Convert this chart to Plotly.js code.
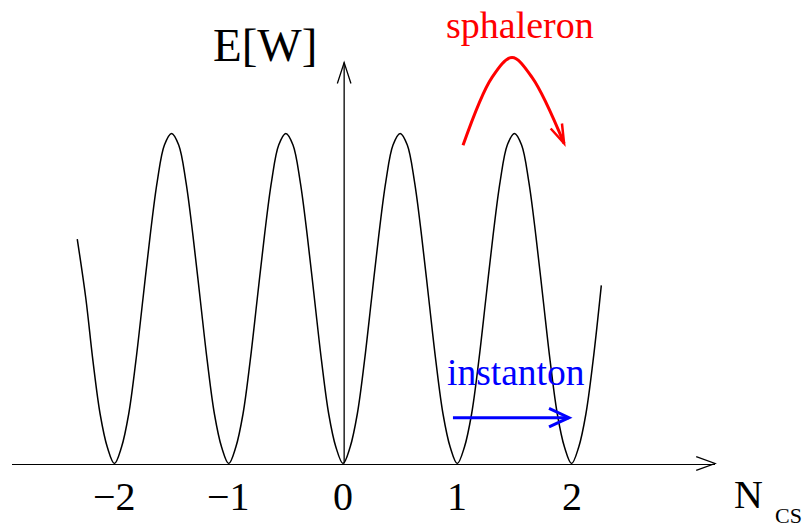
<!DOCTYPE html>
<html>
<head>
<meta charset="utf-8">
<script src="https://cdn.plot.ly/plotly-3.0.1.min.js"></script>
<style>html,body{margin:0;padding:0;background:#fff;}#chart{width:805px;height:527px;}</style>
</head>
<body>
<div id="chart"></div>
<script>
// ---- data ----
const nCS = [-2.325, -2.25, -2.1875, -2.125, -2.0625, -2,
  -1.9375, -1.875, -1.8125, -1.75, -1.6875, -1.625, -1.5625, -1.5, -1.4375, -1.375, -1.3125, -1.25, -1.1875, -1.125, -1.0625, -1,
  -0.9375, -0.875, -0.8125, -0.75, -0.6875, -0.625, -0.5625, -0.5, -0.4375, -0.375, -0.3125, -0.25, -0.1875, -0.125, -0.0625, 0,
  0.0625, 0.125, 0.1875, 0.25, 0.3125, 0.375, 0.4375, 0.5, 0.5625, 0.625, 0.6875, 0.75, 0.8125, 0.875, 0.9375, 1,
  1.0625, 1.125, 1.1875, 1.25, 1.3125, 1.375, 1.4375, 1.5, 1.5625, 1.625, 1.6875, 1.75, 1.8125, 1.875, 1.9375, 2,
  2.0625, 2.125, 2.1875, 2.26];
const energy = [0.68, 0.5, 0.31, 0.15, 0.05, 0,
  0.05, 0.15, 0.31, 0.5, 0.69, 0.855, 0.965, 1.0, 0.965, 0.855, 0.69, 0.5, 0.31, 0.15, 0.05, 0,
  0.05, 0.15, 0.31, 0.5, 0.69, 0.855, 0.965, 1.0, 0.965, 0.855, 0.69, 0.5, 0.31, 0.15, 0.05, 0,
  0.05, 0.15, 0.31, 0.5, 0.69, 0.855, 0.965, 1.0, 0.965, 0.855, 0.69, 0.5, 0.31, 0.15, 0.05, 0,
  0.05, 0.15, 0.31, 0.5, 0.69, 0.855, 0.965, 1.0, 0.965, 0.855, 0.69, 0.5, 0.31, 0.15, 0.05, 0,
  0.05, 0.15, 0.31, 0.54];

const sphaleronN = [1.050, 1.304, 1.479, 1.654, 1.934];
const sphaleronE = [0.964, 1.170, 1.230, 1.170, 0.970];

const instantonN = [0.962, 1.977];
const instantonE = [0.139, 0.139];

const energyAxisTop = 1.215;   // top of the vertical (E) axis arrow
const energyAxisN = 0.01;

const tickVals = [-2, -1, 0, 1, 2];
const tickText = ['\u22122', '\u22121', '0', '1', '2'];

// ---- layout geometry ----
const W = 805, H = 527;
const xDomain = [12 / W, 715 / W];
const xRange = [-2.896, 3.2546];
const yRange = [-0.1924, 1.4045];
const serif = 'Liberation Serif, Times New Roman, serif';

function chevron(tipX, tipY, dirDeg, len, halfDeg, color, width, xref) {
  const a = dirDeg * Math.PI / 180, h = halfDeg * Math.PI / 180;
  const x1 = -len * Math.cos(a - h), y1 = -len * Math.sin(a - h);
  const x2 = -len * Math.cos(a + h), y2 = -len * Math.sin(a + h);
  return {
    type: 'path', xref: xref || 'x', yref: 'y',
    xsizemode: 'pixel', ysizemode: 'pixel', xanchor: tipX, yanchor: tipY,
    path: `M${x1.toFixed(2)},${y1.toFixed(2)}L0,0L${x2.toFixed(2)},${y2.toFixed(2)}`,
    line: {color: color, width: width}, fillcolor: 'rgba(0,0,0,0)', layer: 'above'
  };
}

const sphDir = -66;   // direction of the sphaleron arrow head (degrees, screen, y up)

const traces = [
  {x: nCS, y: energy, mode: 'lines', line: {color: '#000', width: 1.5, shape: 'spline', smoothing: 1}, hoverinfo: 'skip'},
  {x: sphaleronN, y: sphaleronE, mode: 'lines', line: {color: '#ff0000', width: 3, shape: 'spline', smoothing: 1}, hoverinfo: 'skip'},
  {x: instantonN, y: instantonE, mode: 'lines', line: {color: '#0000ff', width: 3}, hoverinfo: 'skip'}
];

const nS = sphaleronN.length;
const shapes = [
  {type: 'line', xref: 'x', yref: 'y', x0: energyAxisN, x1: energyAxisN, y0: 0, y1: energyAxisTop,
   line: {color: '#000', width: 1.3}, layer: 'above'},
  chevron(energyAxisN, energyAxisTop, 90, 22, 18, '#000', 1.3),
  chevron(xDomain[1], 0, 0, 20, 20, '#000', 1.3, 'paper'),
  chevron(sphaleronN[nS - 1], sphaleronE[nS - 1], sphDir, 20, 18, '#ff0000', 2.5),
  chevron(instantonN[1], instantonE[1], 0, 22, 25, '#0000ff', 3)
];

function txt(text, px, py, size, color) {
  return {text: text, xref: 'paper', yref: 'paper', x: px / W, y: 1 - py / H,
          xanchor: 'center', yanchor: 'middle', showarrow: false,
          font: {family: serif, size: size, color: color || '#000'}};
}

const annotations = [
  txt('E[W]', 265, 45, 47),
  txt('sphaleron', 520, 25, 38, '#ff0000'),
  txt('instanton', 516, 372, 37.5, '#0000ff'),
  txt('N', 748.5, 494, 40),
  txt('CS', 788, 515, 22)
];
// tick labels along N_CS, placed at the tick values on the x axis
tickVals.forEach((v, i) => {
  annotations.push({text: tickText[i], xref: 'x', yref: 'paper', x: v, y: 1 - 496 / H,
    xanchor: 'center', yanchor: 'middle', showarrow: false,
    font: {family: serif, size: 40, color: '#000'}});
});

const layout = {
  width: W, height: H,
  margin: {l: 0, r: 0, t: 0, b: 0, pad: 0},
  paper_bgcolor: '#fff', plot_bgcolor: 'rgba(0,0,0,0)',
  showlegend: false,
  xaxis: {domain: xDomain, range: xRange, anchor: 'free', position: 63.5 / H,
          showgrid: false, zeroline: false, showline: true, linecolor: '#000', linewidth: 1.3,
          ticks: '', showticklabels: false, fixedrange: true},
  yaxis: {domain: [0, 1], range: yRange, visible: false, fixedrange: true},
  shapes: shapes,
  annotations: annotations
};

Plotly.newPlot('chart', traces, layout, {displayModeBar: false, staticPlot: true});
</script>
</body>
</html>
